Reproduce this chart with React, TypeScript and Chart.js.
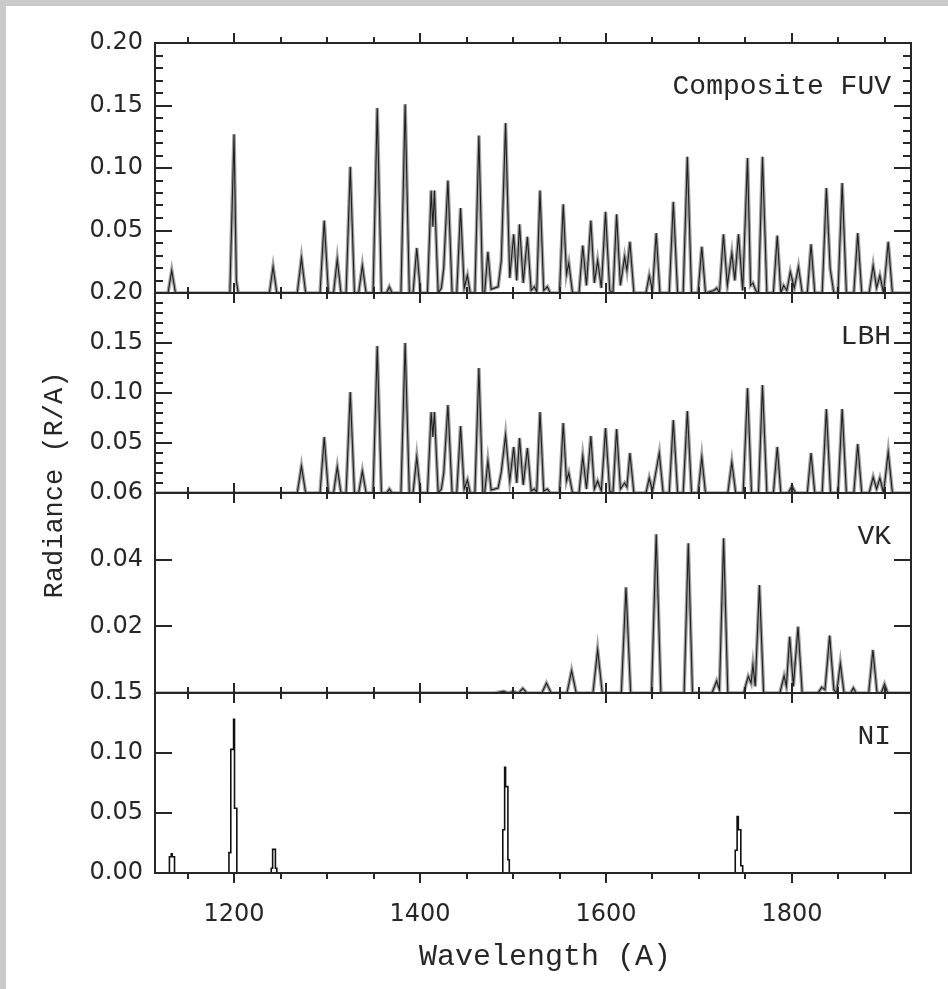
import React, { useEffect, useRef } from 'react';
import { Chart, registerables } from 'chart.js';

Chart.register(...registerables);

// ---------- axis values ----------
const xMin = 1115;
const xMax = 1928;
const xMajorTicks = [1200, 1400, 1600, 1800];
const xMinorTicks = [1150, 1250, 1300, 1350, 1450, 1500, 1550, 1650, 1700, 1750, 1850, 1900];

const fuvTickLabels = [0.05, 0.1, 0.15, 0.2];
const lbhTickLabels = [0.05, 0.1, 0.15, 0.2];
const vkTickLabels = [0.02, 0.04, 0.06];
const niTickLabels = [0, 0.05, 0.1, 0.15];

const fuvMajorTicks = [0.05, 0.1, 0.15];
const fuvMinorTicks = [0.01, 0.02, 0.03, 0.04, 0.06, 0.07, 0.08, 0.09, 0.11, 0.12, 0.13, 0.14, 0.16, 0.17, 0.18, 0.19];
const lbhMajorTicks = [0.05, 0.1, 0.15];
const lbhMinorTicks = [0.01, 0.02, 0.03, 0.04, 0.06, 0.07, 0.08, 0.09, 0.11, 0.12, 0.13, 0.14, 0.16, 0.17, 0.18, 0.19];
const vkMajorTicks = [0.02, 0.04];
const vkMinorTicks: number[] = [];
const niMajorTicks = [0.05, 0.1];
const niMinorTicks: number[] = [];

const panelNames = ['Composite FUV', 'LBH', 'VK', 'NI'];

// ---------- Composite FUV spectrum ----------
const fuvWavelength = [
  1115, 1129, 1133, 1137,
  1195.5, 1200, 1202.5, 1204.5,
  1238, 1242, 1246,
  1268, 1272.5, 1277,
  1292.5, 1297, 1301.5,
  1307, 1311, 1315,
  1320.5, 1325, 1329.5,
  1334, 1338, 1342,
  1349.5, 1354, 1358.5,
  1364, 1367, 1370,
  1379.5, 1384, 1388.5,
  1392.5, 1396.5, 1400.5,
  1408, 1412, 1413.8, 1415.5, 1419.5,
  1423, 1425.5, 1430, 1434.5,
  1439.5, 1443.6, 1447.5, 1451, 1454,
  1459, 1463.3, 1467.5, 1469.5, 1473, 1476.5,
  1484, 1487.4, 1492, 1496.5, 1500.7, 1504, 1507, 1511, 1515.5, 1519.5,
  1523, 1525.5, 1529, 1533, 1537, 1540,
  1550, 1554, 1557.5, 1560, 1564,
  1571, 1575, 1579, 1583.7, 1587.5, 1591, 1595, 1599.5, 1604,
  1607.5, 1611.4, 1615.5, 1620, 1622.5, 1625.7, 1630,
  1643, 1646.5, 1650, 1654, 1658,
  1668, 1672.4, 1677,
  1683, 1687.5, 1692,
  1699, 1703, 1707,
  1716, 1719, 1722, 1726.3, 1730.5, 1735.3, 1738.5, 1742.5, 1747,
  1752.2, 1755.5, 1758, 1761,
  1764, 1768.3, 1773,
  1780, 1784.2, 1788, 1791, 1794.5, 1798.2, 1802.5, 1807, 1811,
  1816.5, 1820.5, 1824.5,
  1832.5, 1837, 1841, 1845, 1849.5, 1854, 1858.5,
  1866.5, 1870.7, 1875,
  1883, 1887.3, 1891, 1894.5, 1898.5, 1903.5, 1908, 1928,
];
const fuvRadiance = [
  0, 0, 0.018, 0,
  0, 0.127, 0.01, 0,
  0, 0.021, 0,
  0, 0.028, 0,
  0, 0.058, 0,
  0, 0.027, 0,
  0, 0.101, 0,
  0, 0.022, 0,
  0, 0.148, 0,
  0, 0.005, 0,
  0, 0.151, 0,
  0, 0.036, 0,
  0, 0.082, 0.053, 0.082, 0,
  0.004, 0.02, 0.09, 0,
  0, 0.068, 0.004, 0.014, 0,
  0, 0.126, 0, 0, 0.033, 0.003,
  0.005, 0.026, 0.136, 0.012, 0.047, 0.01, 0.055, 0.008, 0.045, 0.002,
  0.005, 0.001, 0.082, 0.002, 0.005, 0,
  0, 0.071, 0.015, 0.024, 0,
  0, 0.038, 0.006, 0.058, 0.008, 0.026, 0.004, 0.065, 0.002,
  0, 0.063, 0.006, 0.029, 0.018, 0.041, 0,
  0, 0.014, 0.002, 0.048, 0,
  0, 0.073, 0,
  0, 0.109, 0,
  0, 0.037, 0,
  0.002, 0.004, 0, 0.047, 0.006, 0.032, 0.01, 0.047, 0.002,
  0.108, 0.006, 0.008, 0.002,
  0, 0.109, 0,
  0, 0.046, 0, 0.006, 0.002, 0.017, 0.004, 0.021, 0,
  0, 0.039, 0,
  0, 0.084, 0.02, 0, 0, 0.088, 0,
  0, 0.048, 0,
  0, 0.022, 0.004, 0.014, 0, 0.041, 0, 0,
];

// ---------- LBH spectrum ----------
const lbhWavelength = [
  1115, 1268, 1272.5, 1277,
  1292.5, 1297, 1301.5,
  1307, 1311, 1315,
  1320.5, 1325, 1329.5,
  1334, 1338, 1342,
  1349.5, 1354, 1358.5,
  1364, 1367, 1370,
  1379.5, 1384, 1388.5,
  1392.5, 1396.5, 1400.5,
  1408, 1412, 1413.8, 1415.5, 1419.5,
  1423, 1425.5, 1430, 1434.5,
  1439.5, 1443.6, 1447.5, 1451, 1454,
  1459, 1463.3, 1467.5, 1469.5, 1473, 1476.5,
  1484, 1487.4, 1492, 1496.5, 1500.7, 1504, 1507, 1511, 1515.5, 1519.5,
  1523, 1525.5, 1529, 1533, 1537, 1540,
  1550, 1554, 1557.5, 1560, 1564,
  1571, 1575, 1579, 1583.7, 1587.5, 1591, 1595, 1599.5, 1604,
  1607.5, 1611.4, 1615.5, 1620, 1622.5, 1625.7, 1630,
  1643, 1646.5, 1650, 1657.3, 1661.5,
  1668, 1672.4, 1677,
  1683, 1687.5, 1692,
  1699, 1703, 1707,
  1731, 1735.3, 1739.5,
  1747.5, 1752.2, 1756.5,
  1764, 1768.3, 1773,
  1780, 1784.2, 1788,
  1796, 1800, 1804,
  1816.5, 1820.5, 1824.5,
  1832.5, 1837, 1841.5,
  1849.5, 1854, 1858.5,
  1866.5, 1870.7, 1875,
  1883, 1887.3, 1891, 1894.5, 1898.5, 1903.5, 1908, 1928,
];
const lbhRadiance = [
  0, 0, 0.027, 0,
  0, 0.056, 0,
  0, 0.026, 0,
  0, 0.101, 0,
  0, 0.022, 0,
  0, 0.147, 0,
  0, 0.004, 0,
  0, 0.15, 0,
  0, 0.036, 0,
  0, 0.081, 0.056, 0.081, 0,
  0.004, 0.02, 0.088, 0,
  0, 0.067, 0.004, 0.013, 0,
  0, 0.125, 0, 0, 0.032, 0.003,
  0.005, 0.021, 0.058, 0.012, 0.046, 0.01, 0.055, 0.008, 0.045, 0.002,
  0.004, 0.001, 0.081, 0.002, 0.004, 0,
  0, 0.07, 0.012, 0.02, 0,
  0, 0.037, 0.004, 0.057, 0.004, 0.012, 0.002, 0.065, 0.002,
  0, 0.064, 0.004, 0.01, 0.006, 0.04, 0,
  0, 0.015, 0.002, 0.04, 0,
  0, 0.073, 0,
  0, 0.082, 0,
  0, 0.036, 0,
  0, 0.031, 0,
  0, 0.105, 0,
  0, 0.108, 0,
  0, 0.046, 0,
  0, 0.007, 0,
  0, 0.04, 0,
  0, 0.084, 0,
  0, 0.084, 0,
  0, 0.049, 0,
  0, 0.016, 0.004, 0.015, 0, 0.041, 0, 0,
];

// ---------- VK spectrum ----------
const vkWavelength = [
  1115, 1480, 1490, 1495, 1500, 1506, 1510.5, 1515,
  1531, 1536, 1541,
  1558, 1563, 1568,
  1586, 1591, 1596,
  1616.5, 1621.5, 1626.5,
  1649, 1654, 1659,
  1684, 1688.5, 1693,
  1714, 1719, 1722, 1726.5, 1731,
  1748, 1753, 1756, 1758, 1760.5, 1765, 1769.5,
  1787, 1791.5, 1794, 1797.5, 1801.5, 1806.5, 1811,
  1828, 1832, 1835.5, 1840.5, 1845, 1848, 1852, 1856,
  1863, 1866, 1869,
  1882.5, 1887, 1891.5,
  1896, 1899.5, 1903, 1928,
];
const vkRadiance = [
  0, 0, 0.0005, 0, 0.0004, 0, 0.0014, 0,
  0, 0.003, 0,
  0, 0.0067, 0,
  0, 0.013, 0,
  0, 0.0317, 0,
  0, 0.0476, 0,
  0, 0.0449, 0,
  0, 0.0036, 0.001, 0.0464, 0,
  0, 0.005, 0.003, 0.0084, 0.002, 0.0324, 0,
  0, 0.0051, 0.002, 0.0169, 0.002, 0.0199, 0,
  0, 0.0017, 0.001, 0.0172, 0.001, 0, 0.0089, 0,
  0, 0.0015, 0,
  0, 0.0129, 0,
  0, 0.0027, 0, 0,
];

// ---------- NI spectrum (histogram steps) ----------
const niWavelength = [
  1115, 1130.5, 1132.5, 1133.5, 1136,
  1194.5, 1196.5, 1199.5, 1200.5, 1203,
  1240, 1241.5, 1244.5, 1246,
  1489, 1491, 1492, 1494.5, 1496,
  1739, 1741, 1742.3, 1745, 1747,
  1928,
];
const niRadiance = [
  0, 0.0136, 0.016, 0.0136, 0,
  0.017, 0.103, 0.128, 0.054, 0,
  0.004, 0.0197, 0.004, 0,
  0.036, 0.088, 0.072, 0.011, 0,
  0.019, 0.047, 0.036, 0.006, 0,
  0,
];

// ---------- styles ----------
const INK = '#262626';
const TICK_FONT = '"DejaVu Sans", sans-serif';
const TITLE_FONT = '"Liberation Mono", "DejaVu Sans Mono", monospace';

type PanelDef = {
  id: string;
  name: string;
  max: number;
  weight: number;
  labels: number[];
  major: number[];
  minor: number[];
};

const panels: PanelDef[] = [
  { id: 'yFUV', name: panelNames[0], max: 0.2, weight: 250, labels: fuvTickLabels, major: fuvMajorTicks, minor: fuvMinorTicks },
  { id: 'yLBH', name: panelNames[1], max: 0.2, weight: 200, labels: lbhTickLabels, major: lbhMajorTicks, minor: lbhMinorTicks },
  { id: 'yVK', name: panelNames[2], max: 0.06, weight: 200, labels: vkTickLabels, major: vkMajorTicks, minor: vkMinorTicks },
  { id: 'yNI', name: panelNames[3], max: 0.15, weight: 180, labels: niTickLabels, major: niMajorTicks, minor: niMinorTicks },
];

const toPoints = (xs: number[], ys: number[]) => xs.map((x, i) => ({ x, y: ys[i] }));

const framePlugin = {
  id: 'framePlugin',
  beforeDraw(chart: any) {
    const { ctx, width, height } = chart;
    ctx.save();
    ctx.fillStyle = '#ffffff';
    ctx.fillRect(0, 0, width, height);
    ctx.fillStyle = '#cacaca';
    ctx.fillRect(0, 0, width, 6);
    ctx.fillRect(0, 0, 6, height);
    ctx.restore();
  },
  afterDraw(chart: any) {
    const { ctx, chartArea } = chart;
    const xs = chart.scales.x;
    ctx.save();
    ctx.strokeStyle = INK;
    ctx.lineWidth = 2;
    ctx.lineCap = 'butt';
    ctx.strokeRect(chartArea.left, chartArea.top, chartArea.right - chartArea.left, chartArea.bottom - chartArea.top);

    const line = (x1: number, y1: number, x2: number, y2: number) => {
      ctx.beginPath();
      ctx.moveTo(x1, y1);
      ctx.lineTo(x2, y2);
      ctx.stroke();
    };

    panels.forEach((p, idx) => {
      const s = chart.scales[p.id];
      if (idx > 0) line(chartArea.left, s.top, chartArea.right, s.top);
      // y ticks, pointing inward on both sides
      p.major.forEach((v) => {
        const y = Math.round(s.getPixelForValue(v));
        line(chartArea.left, y, chartArea.left + 17, y);
        line(chartArea.right, y, chartArea.right - 17, y);
      });
      p.minor.forEach((v) => {
        const y = Math.round(s.getPixelForValue(v));
        line(chartArea.left, y, chartArea.left + 8, y);
        line(chartArea.right, y, chartArea.right - 8, y);
      });
      // x ticks, pointing outward from each panel
      xMajorTicks.forEach((v) => {
        const x = Math.round(xs.getPixelForValue(v));
        line(x, s.top, x, s.top - 10);
        line(x, s.bottom, x, s.bottom + 10);
      });
      xMinorTicks.forEach((v) => {
        const x = Math.round(xs.getPixelForValue(v));
        line(x, s.top, x, s.top - 6);
        line(x, s.bottom, x, s.bottom + 6);
      });
      // panel label
      ctx.fillStyle = INK;
      ctx.font = `28px ${TITLE_FONT}`;
      ctx.textAlign = 'right';
      ctx.textBaseline = 'alphabetic';
      ctx.fillText(p.name, chartArea.right - 20, s.top + 51);
    });

    // axis titles
    ctx.fillStyle = INK;
    ctx.font = `30px ${TITLE_FONT}`;
    ctx.textAlign = 'center';
    ctx.textBaseline = 'middle';
    ctx.fillText('Wavelength (A)', 545, 957);
    ctx.font = `27px ${TITLE_FONT}`;
    ctx.save();
    ctx.translate(55, 485);
    ctx.rotate(-Math.PI / 2);
    ctx.fillText('Radiance (R/A)', 0, 0);
    ctx.restore();
    ctx.restore();
  },
};

export default function App() {
  const canvasRef = useRef<HTMLCanvasElement | null>(null);

  useEffect(() => {
    const canvas = canvasRef.current;
    if (!canvas) return;

    const makeY = (p: PanelDef) => ({
      type: 'linear',
      position: 'left',
      stack: 'panels',
      stackWeight: p.weight,
      min: 0,
      max: p.max,
      afterBuildTicks: (s: any) => {
        s.ticks = p.labels.map((v) => ({ value: v }));
      },
      afterFit: (s: any) => {
        s.width = 155;
      },
      grid: { display: false, drawTicks: false },
      border: { display: false },
      ticks: {
        padding: 12,
        autoSkip: false,
        color: INK,
        font: { family: TICK_FONT, size: 24 },
        callback: (v: any) => Number(v).toFixed(2),
      },
    });

    const spectrum = (xsArr: number[], ysArr: number[], yAxisID: string) => [
      {
        data: toPoints(xsArr, ysArr),
        yAxisID,
        xAxisID: 'x',
        borderColor: '#1e1e1e',
        borderWidth: 1.1,
        pointRadius: 0,
        tension: 0,
        fill: false,
        order: 0,
      },
      {
        data: toPoints(xsArr, ysArr),
        yAxisID,
        xAxisID: 'x',
        borderColor: 'rgba(130,130,130,0.75)',
        borderWidth: 3.6,
        pointRadius: 0,
        tension: 0,
        fill: false,
        order: 1,
      },
    ];

    const chart = new Chart(canvas, {
      type: 'line',
      data: {
        datasets: [
          ...spectrum(fuvWavelength, fuvRadiance, 'yFUV'),
          ...spectrum(lbhWavelength, lbhRadiance, 'yLBH'),
          ...spectrum(vkWavelength, vkRadiance, 'yVK'),
          {
            data: toPoints(niWavelength, niRadiance),
            yAxisID: 'yNI',
            xAxisID: 'x',
            borderColor: '#111111',
            borderWidth: 1.6,
            pointRadius: 0,
            stepped: true,
            fill: false,
            order: 0,
          },
        ] as any,
      },
      options: {
        responsive: false,
        animation: false,
        devicePixelRatio: 1,
        events: [],
        layout: { padding: { left: 0, right: 37, top: 43, bottom: 0 } },
        plugins: { legend: { display: false }, tooltip: { enabled: false }, title: { display: false } },
        scales: {
          x: {
            type: 'linear',
            position: 'bottom',
            min: xMin,
            max: xMax,
            afterBuildTicks: (s: any) => {
              s.ticks = xMajorTicks.map((v) => ({ value: v }));
            },
            afterFit: (s: any) => {
              s.height = 116;
            },
            grid: { display: false, drawTicks: false },
            border: { display: false },
            ticks: {
              padding: 27,
              autoSkip: false,
              maxRotation: 0,
              color: INK,
              font: { family: TICK_FONT, size: 24 },
              callback: (v: any) => String(v),
            },
          },
          yNI: makeY(panels[3]),
          yVK: makeY(panels[2]),
          yLBH: makeY(panels[1]),
          yFUV: makeY(panels[0]),
        } as any,
      },
      plugins: [framePlugin],
    });

    return () => chart.destroy();
  }, []);

  return (
    <div style={{ position: 'fixed', left: 0, top: 0, width: 948, height: 989, background: '#fff' }}>
      <canvas ref={canvasRef} width={948} height={989} style={{ display: 'block', width: 948, height: 989 }} />
    </div>
  );
}
